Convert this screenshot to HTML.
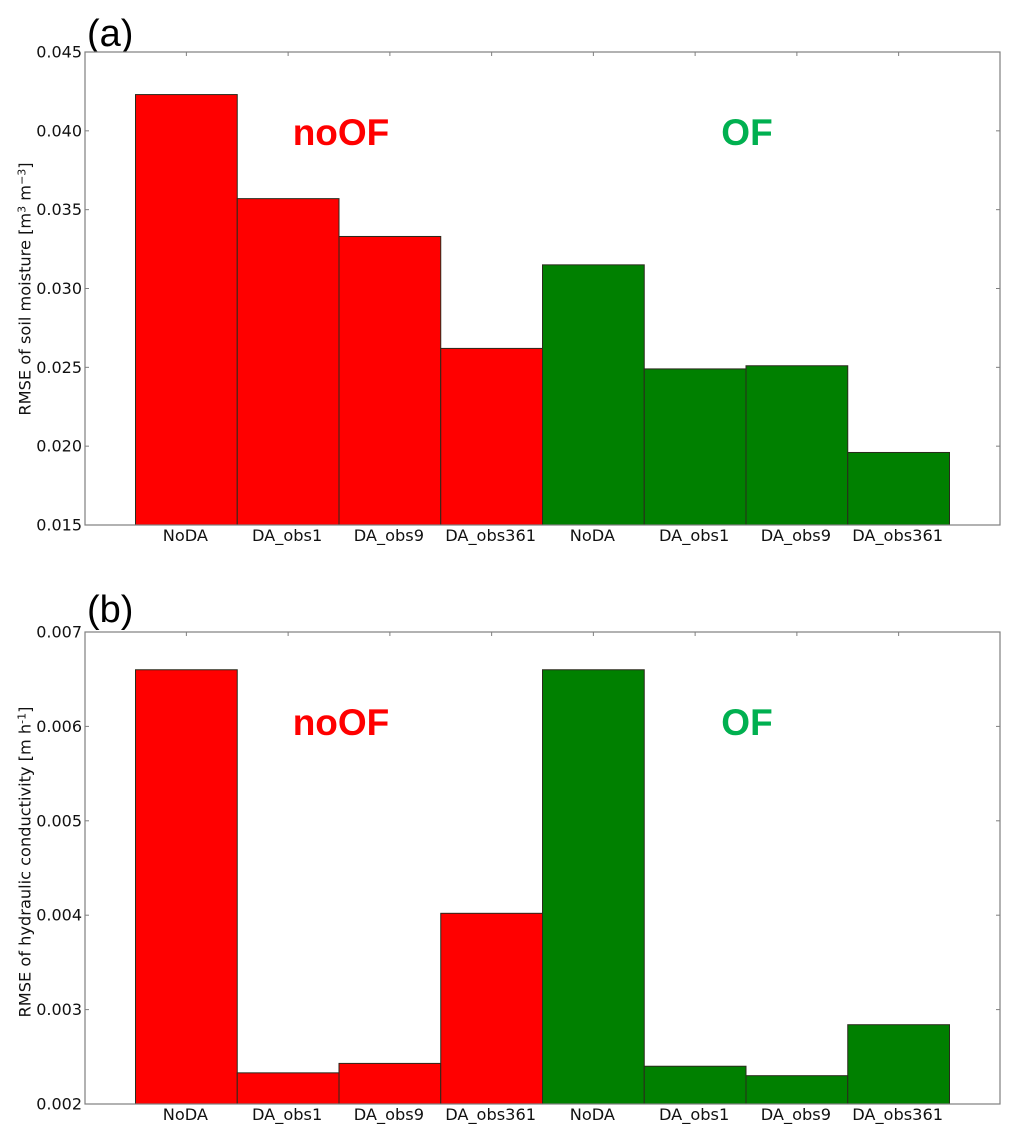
<!DOCTYPE html>
<html lang="en">
<head>
<meta charset="utf-8">
<title>RMSE bar charts</title>
<style>
html,body{margin:0;padding:0;background:#fff;width:1010px;height:1138px;overflow:hidden}
svg{display:block}
text{font-family:"DejaVu Sans",sans-serif;fill:#111}
.panel{font-family:"Liberation Sans",sans-serif;font-size:38px;fill:#000}
.group{font-family:"Liberation Sans",sans-serif;font-size:37px;font-weight:bold}
</style>
</head>
<body>
<svg id="chart" xmlns="http://www.w3.org/2000/svg" width="1010" height="1138" viewBox="0 0 1010 1138"></svg>
<script>
const categories = ['NoDA', 'DA_obs1', 'DA_obs9', 'DA_obs361', 'NoDA', 'DA_obs1', 'DA_obs9', 'DA_obs361'];
const seriesGroups = ['noOF', 'noOF', 'noOF', 'noOF', 'OF', 'OF', 'OF', 'OF'];
const soilMoistureValues = [0.0423, 0.0357, 0.0333, 0.0262, 0.0315, 0.0249, 0.0251, 0.0196];
const conductivityValues = [0.0066, 0.00233, 0.00243, 0.00402, 0.0066, 0.0024, 0.0023, 0.00284];
const soilMoistureTicks = [0.015, 0.020, 0.025, 0.030, 0.035, 0.040, 0.045];
const conductivityTicks = [0.002, 0.003, 0.004, 0.005, 0.006, 0.007];

const svg = document.getElementById('chart');
const NS = 'http://www.w3.org/2000/svg';
const groupColors = { noOF: '#ff0000', OF: '#008000' };
const labelColors = { noOF: '#ff0000', OF: '#00b050' };

function make(tag, attrs, text) {
  const el = document.createElementNS(NS, tag);
  for (const k in attrs) el.setAttribute(k, attrs[k]);
  if (text !== undefined) el.textContent = text;
  return el;
}

function drawPanel(p) {
  const left = 85, right = 1000;
  const barStart = 135.5, barStep = 101.75;
  const xBand = i => barStart + i * barStep;
  const yMin = p.ticks[0], yMax = p.ticks[p.ticks.length - 1];
  const y = v => p.bottom - (v - yMin) / (yMax - yMin) * (p.bottom - p.top);

  const panelLabel = make('text', { x: 87, y: p.letterY, class: 'panel' }, p.letter);
  
  
  svg.appendChild(panelLabel);

  const plot = make('rect', { x: left, y: p.top, width: right - left, height: p.bottom - p.top, fill: '#fff' });
  
  
  svg.appendChild(plot);

  p.values.forEach((v, i) => {
    const bar = make('rect', {
      x: xBand(i), y: y(v), width: barStep, height: p.bottom - y(v),
      fill: groupColors[seriesGroups[i]], stroke: '#2a2a1c', 'stroke-width': 1
    });
    
    
    svg.appendChild(bar);
  });

  const frame = make('rect', { x: left, y: p.top, width: right - left, height: p.bottom - p.top, fill: 'none', stroke: '#7f7f7f', 'stroke-width': 1.2 });
  
  
  svg.appendChild(frame);

  p.ticks.forEach(t => {
    const ty = y(t);
    const tickLeft = make('line', { x1: left, x2: left + 4, y1: ty, y2: ty, stroke: '#7f7f7f' });
    
    
    svg.appendChild(tickLeft);
    const tickRight = make('line', { x1: right - 4, x2: right, y1: ty, y2: ty, stroke: '#7f7f7f' });
    
    
    svg.appendChild(tickRight);
    const tickLabel = make('text', { x: 82, y: ty + 5.5, 'text-anchor': 'end', 'font-size': 16 }, t.toFixed(3));
    
    
    svg.appendChild(tickLabel);
  });

  categories.forEach((c, i) => {
    const cx = xBand(i) + barStep / 2;
    const tickTop = make('line', { x1: cx, x2: cx, y1: p.top, y2: p.top + 4, stroke: '#7f7f7f' });
    
    
    svg.appendChild(tickTop);
    const tickLabel = make('text', { x: cx - 1, y: p.bottom + 16, 'text-anchor': 'middle', 'font-size': 16.2 }, c);
    
    
    svg.appendChild(tickLabel);
  });

  const yTitle = make('text', {
    transform: 'translate(30.5 ' + p.titleY + ') rotate(-90)',
    'text-anchor': 'middle', 'font-size': 16.2
  });
  
  
  p.title.forEach(part => {
    const span = make('tspan', part.sup ? { 'font-size': 11, dy: -5 } : { dy: part.after ? 5 : 0 }, part.t);
    yTitle.appendChild(span);
  });
  svg.appendChild(yTitle);

  const noOf = make('text', { x: 341, y: p.groupY, 'text-anchor': 'middle', class: 'group', style: 'fill:' + labelColors.noOF }, 'noOF');
  
  
  svg.appendChild(noOf);
  const of = make('text', { x: 747, y: p.groupY, 'text-anchor': 'middle', class: 'group', style: 'fill:' + labelColors.OF }, 'OF');
  
  
  svg.appendChild(of);
}

drawPanel({
  id: 'a', letter: '(a)', top: 52, bottom: 525, letterY: 46, groupY: 145, values: soilMoistureValues, ticks: soilMoistureTicks, titleY: 289,
  title: [{ t: 'RMSE of soil moisture [m' }, { t: '3', sup: true }, { t: ' m', after: true }, { t: '−3', sup: true }, { t: ']', after: true }]
});
drawPanel({
  id: 'b', letter: '(b)', top: 632, bottom: 1104, letterY: 622, groupY: 735, values: conductivityValues, ticks: conductivityTicks, titleY: 862,
  title: [{ t: 'RMSE of hydraulic conductivity [m h' }, { t: '-1', sup: true }, { t: ']', after: true }]
});
</script>
</body>
</html>
